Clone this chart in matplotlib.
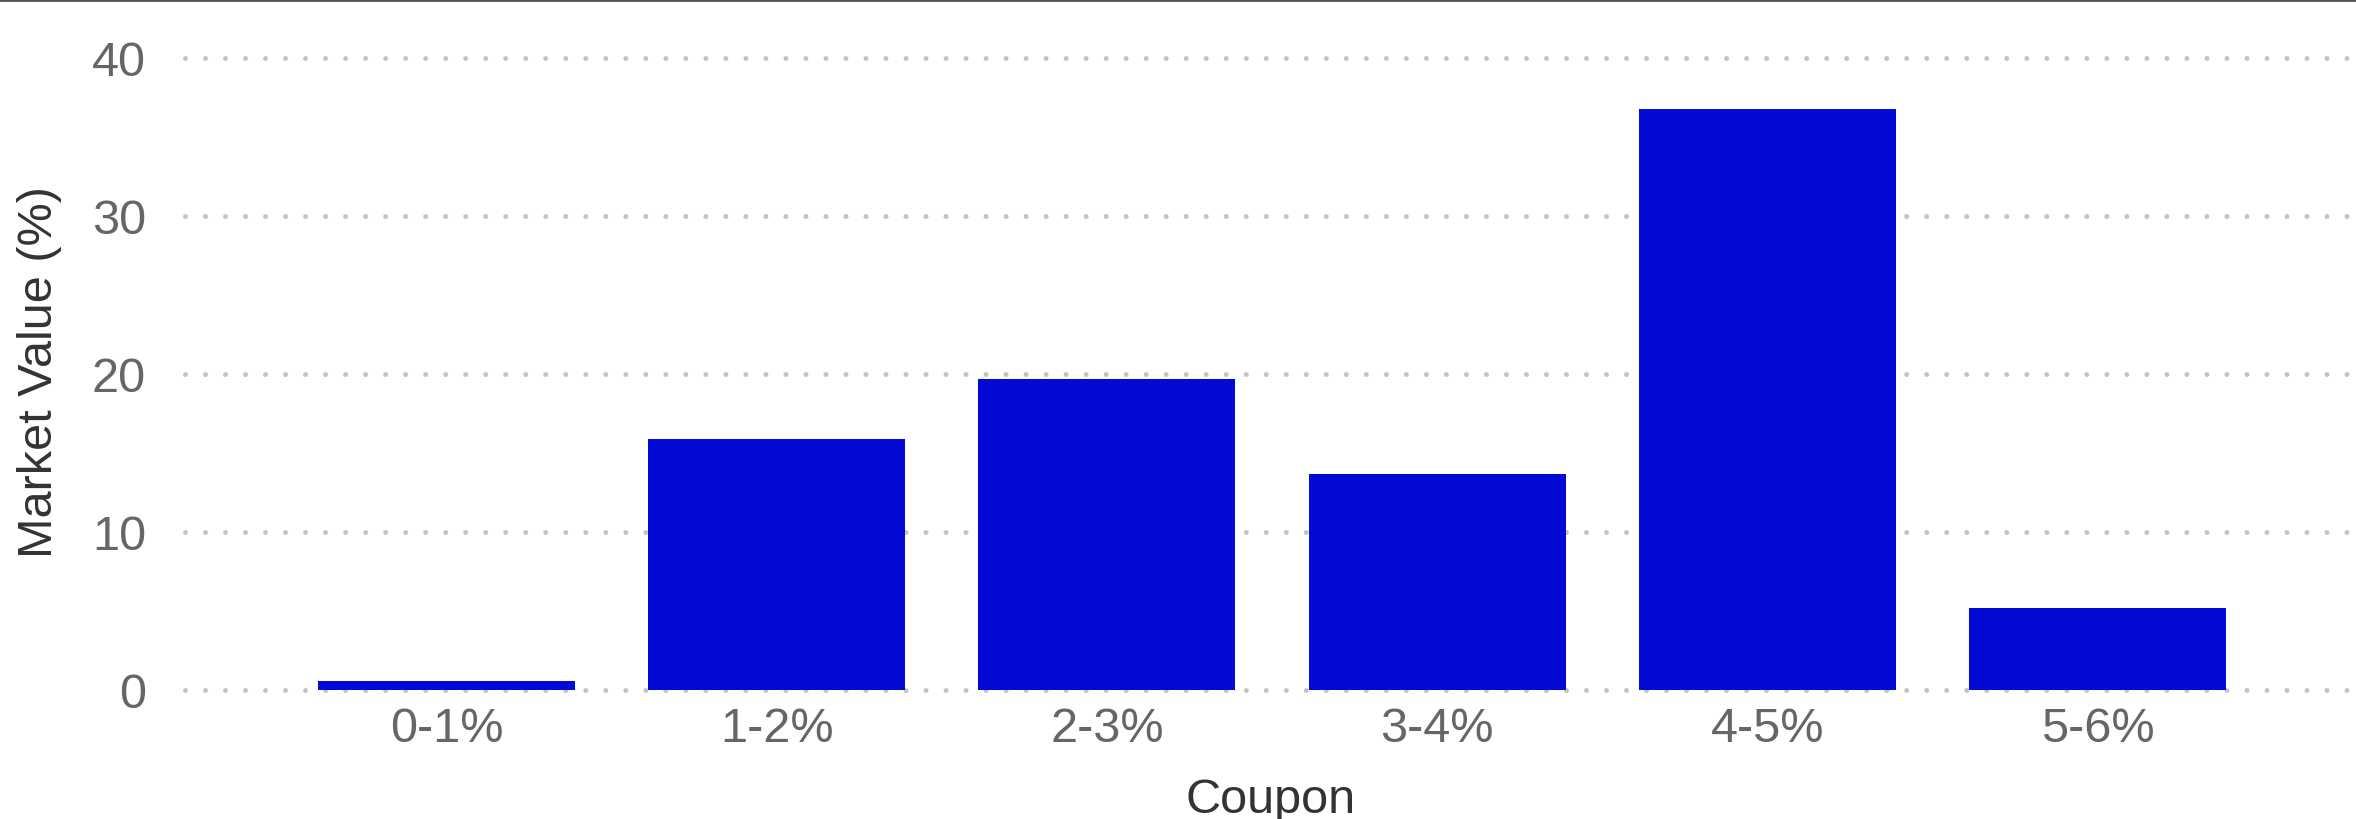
import matplotlib
matplotlib.use("Agg")
import matplotlib.pyplot as plt
from matplotlib.lines import Line2D

categories = ["0-1%", "1-2%", "2-3%", "3-4%", "4-5%", "5-6%"]
market_value = [0.6, 15.9, 19.7, 13.7, 36.8, 5.2]
yticks = [0, 10, 20, 30, 40]

plt.rcParams['font.family'] = ['Liberation Sans', 'DejaVu Sans']
plt.rcParams['lines.scale_dashes'] = False

W, H, DPI = 2356, 819, 100
fig = plt.figure(figsize=(W / DPI, H / DPI), dpi=DPI)
left = 185 / W
bottom = (H - 690) / H
ymax = 42.0
top_px = 690 - ymax * 15.8
ax = fig.add_axes([left, bottom, 1.0 - left, (690 - top_px) / H])

x = list(range(len(categories)))
ax.bar(x, market_value, width=0.778, color="#020AD3", zorder=2)

ax.set_xlim(-0.792, 5.783)
ax.set_ylim(0, ymax)
ax.set_yticks(yticks)
ax.set_xticks(x)
ax.set_xticklabels(categories)

for y in yticks:
    ax.axhline(y, color="#c4c4c4", lw=3.6, linestyle=(0, (0.01, 14.4)),
               dash_capstyle='round', zorder=1, clip_on=False)

for s in ax.spines.values():
    s.set_visible(False)
ax.tick_params(axis='both', length=0, labelsize=35, labelcolor="#666666")
ax.tick_params(axis='y', pad=28)
ax.tick_params(axis='x', pad=12)

ax.set_xlabel("Coupon", fontsize=35, color="#333333", labelpad=19)
ax.set_ylabel("Market Value (%)", fontsize=35, color="#333333")
ax.yaxis.set_label_coords(-0.0567, 0.479)

fig.add_artist(Line2D([0, 1], [1, 1], transform=fig.transFigure,
                      color="#555555", lw=2.0))

fig.savefig("out.png", dpi=DPI)
